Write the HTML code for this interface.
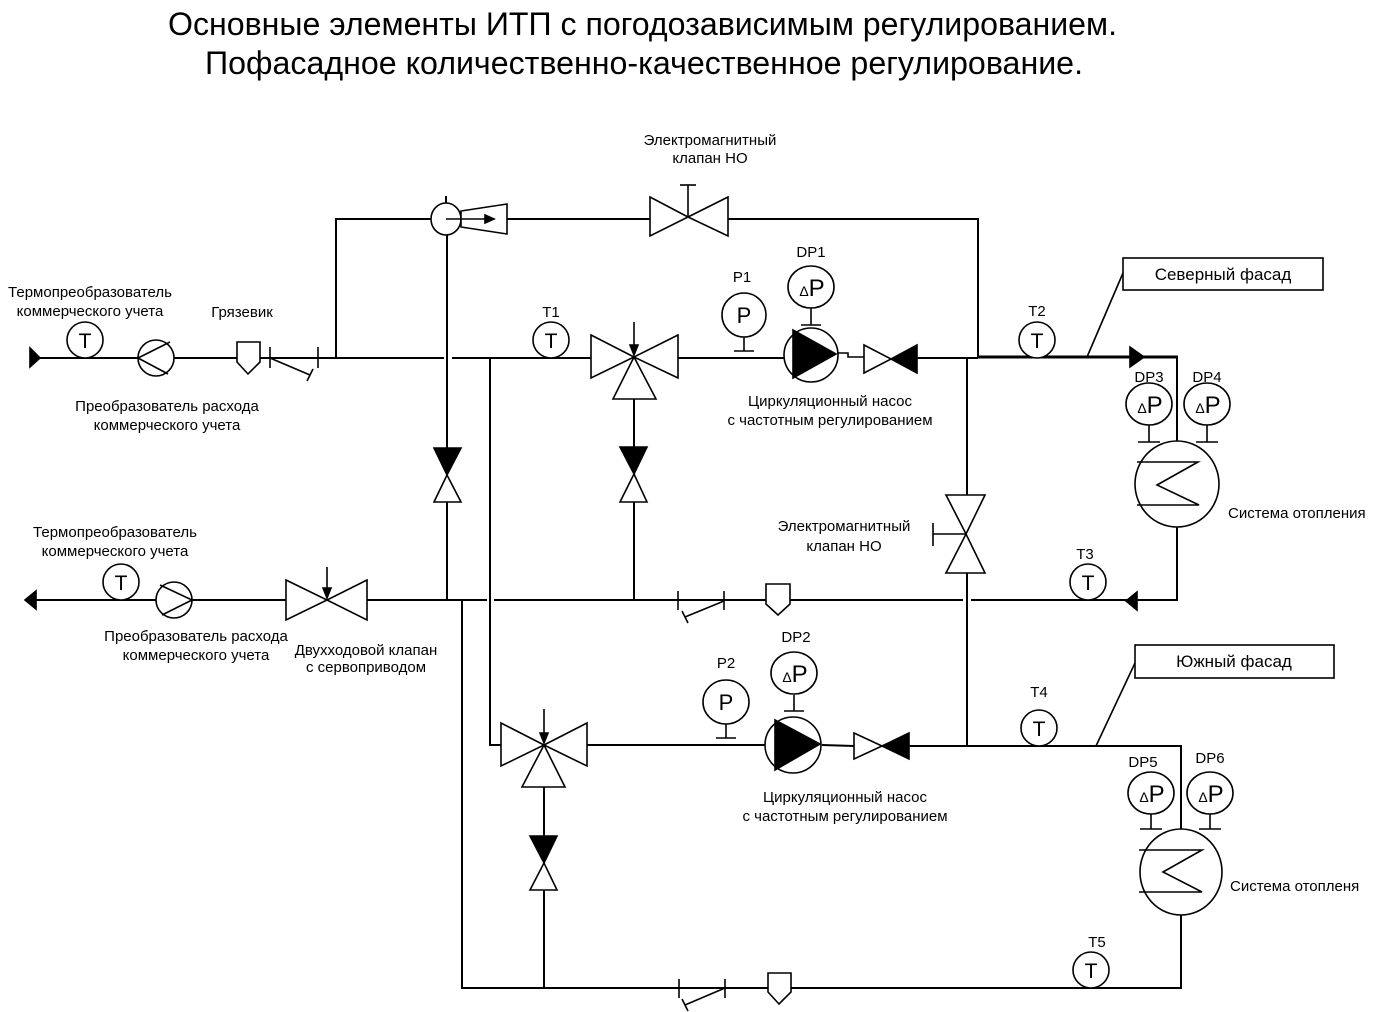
<!DOCTYPE html>
<html><head><meta charset="utf-8"><style>
html,body{margin:0;padding:0;background:#fff;}
svg{display:block;}
text{font-family:"Liberation Sans",sans-serif;fill:#000;}
</style></head><body>
<svg width="1375" height="1012" viewBox="0 0 1375 1012" xmlns="http://www.w3.org/2000/svg">
<defs>
<g id="tsens"><circle cx="0" cy="0" r="18" fill="#fff" stroke="#000" stroke-width="1.6"/><text x="0" y="8" font-size="21" text-anchor="middle">T</text></g>
<g id="dp"><ellipse cx="0" cy="0" rx="23" ry="21" fill="#fff" stroke="#000" stroke-width="1.6"/><text x="1" y="9" font-size="24" text-anchor="middle"><tspan font-size="14">Δ</tspan>P</text></g>
</defs>
<g font-size="32">
<text x="168" y="35" textLength="949" lengthAdjust="spacingAndGlyphs">Основные элементы ИТП с погодозависимым регулированием.</text>
<text x="205" y="74" textLength="878" lengthAdjust="spacingAndGlyphs">Пофасадное количественно-качественное регулирование.</text>
</g>
<g stroke="#000" stroke-width="2" fill="none">
<polyline points="336,357 336,219 431,219"/>
<line x1="507" y1="219" x2="650" y2="219"/>
<polyline points="728,219 978,219 978,357"/>
<line x1="35" y1="358" x2="138" y2="358"/>
<line x1="174" y1="358" x2="237" y2="358"/>
<line x1="260" y1="358" x2="444" y2="358"/>
<line x1="452" y1="358" x2="591" y2="358"/>
<line x1="678" y1="358" x2="784" y2="358"/>
<line x1="917" y1="358" x2="978" y2="358"/>
<line x1="978" y1="357" x2="1178" y2="357" stroke-width="3"/>
<line x1="447" y1="234" x2="447" y2="448"/>
<line x1="447" y1="502" x2="447" y2="600"/>
<line x1="446" y1="196" x2="446" y2="204"/>
<polyline points="490,358 490,745 501,745"/>
<line x1="634" y1="399" x2="634" y2="447"/>
<line x1="634" y1="502" x2="634" y2="600"/>
<line x1="35" y1="600" x2="156" y2="600"/>
<line x1="192" y1="600" x2="286" y2="600"/>
<line x1="367" y1="600" x2="487" y2="600"/>
<line x1="494" y1="600" x2="963" y2="600"/>
<line x1="971" y1="600" x2="1130" y2="600"/>
<polyline points="1130,600 1177,600 1177,527"/>
<line x1="1177" y1="357" x2="1177" y2="442"/>
<line x1="967" y1="358" x2="967" y2="495"/>
<line x1="967" y1="573" x2="967" y2="745"/>
<line x1="587" y1="745" x2="765" y2="745"/>
<line x1="822" y1="745" x2="854" y2="746"/>
<polyline points="909,746 1181,746 1181,829"/>
<line x1="544" y1="787" x2="544" y2="836"/>
<line x1="544" y1="890" x2="544" y2="988"/>
<polyline points="462,600 462,988 1181,988 1181,914"/>
</g>
<g stroke="#000" stroke-width="1.6" fill="#fff">
<polygon points="30,348 40,358 30,367" fill="#000"/>
<polygon points="25,600 36,591 36,609" fill="#000"/>
<circle cx="156" cy="358" r="18"/>
<polyline points="170,342 138,358 168,374" fill="none"/>
<circle cx="174" cy="600" r="18"/>
<polyline points="160,585 192,600 162,615" fill="none"/>
<polygon points="237,342 260,342 260,362 248,374 237,362"/>
<line x1="270" y1="347" x2="270" y2="368"/>
<line x1="318" y1="347" x2="318" y2="368"/>
<line x1="270" y1="358" x2="310" y2="375"/>
<line x1="307" y1="381" x2="313" y2="369"/>
<ellipse cx="446" cy="219" rx="15" ry="16"/>
<polygon points="461,211 507,204 507,234 461,227"/>
<line x1="446" y1="219" x2="490" y2="219"/>
<polygon points="485,215 494,219 485,223" fill="#000"/>
<polygon points="650,197 688,217 650,236"/>
<polygon points="728,197 688,217 728,236"/>
<line x1="688" y1="217" x2="688" y2="185"/>
<line x1="680" y1="185" x2="696" y2="185"/>
<polygon points="591,335 634,357 591,378"/>
<polygon points="678,335 634,357 678,378"/>
<polygon points="634,357 613,399 656,399"/>
<line x1="634" y1="322" x2="634" y2="350"/>
<polygon points="630,345 634,355 638,345" fill="#000"/>
<polygon points="434,448 461,448 447,475" fill="#000"/>
<polygon points="447,475 434,502 461,502"/>
<polygon points="620,447 647,447 634,474" fill="#000"/>
<polygon points="634,474 620,502 647,502"/>
<polygon points="530,836 557,836 544,863" fill="#000"/>
<polygon points="544,863 530,890 557,890"/>
<line x1="744" y1="337" x2="744" y2="351"/>
<line x1="734" y1="351" x2="754" y2="351"/>
<ellipse cx="744" cy="315" rx="22" ry="22"/>
<line x1="811" y1="308" x2="811" y2="325"/>
<line x1="801" y1="325" x2="821" y2="325"/>
<circle cx="811" cy="355" r="27"/>
<polygon points="793,330 793,378 836,354" fill="#000"/>
<polyline points="837,353 848,353 848,357 864,357" fill="none"/>
<polygon points="864,345 891,359 864,373"/>
<polygon points="917,345 891,359 917,373" fill="#000"/>
<polygon points="1130,347 1144,357 1130,367" fill="#000"/>
<polygon points="1137,592 1126,601 1137,610" fill="#000"/>
<ellipse cx="1177" cy="484" rx="42" ry="43"/>
<polyline points="1137,462 1198,462 1157,485 1199,505 1137,505" fill="none"/>
<line x1="1149" y1="425" x2="1149" y2="442"/>
<line x1="1138" y1="442" x2="1160" y2="442"/>
<line x1="1207" y1="425" x2="1207" y2="442"/>
<line x1="1196" y1="442" x2="1218" y2="442"/>
<polygon points="946,495 985,495 966,534"/>
<polygon points="946,573 985,573 966,534"/>
<line x1="966" y1="534" x2="933" y2="534"/>
<line x1="933" y1="523" x2="933" y2="546"/>
<polygon points="286,580 327,600 286,620"/>
<polygon points="367,580 327,600 367,620"/>
<line x1="327" y1="567" x2="327" y2="594"/>
<polygon points="323,588 327,598 331,588" fill="#000"/>
<line x1="678" y1="591" x2="678" y2="610"/>
<line x1="724" y1="591" x2="724" y2="610"/>
<line x1="724" y1="601" x2="685" y2="617"/>
<line x1="682" y1="611" x2="688" y2="623"/>
<polygon points="766,584 790,584 790,604 778,615 766,604"/>
<polygon points="501,723 544,745 501,766"/>
<polygon points="587,723 544,745 587,766"/>
<polygon points="544,745 522,787 565,787"/>
<line x1="544" y1="709" x2="544" y2="738"/>
<polygon points="540,733 544,743 548,733" fill="#000"/>
<line x1="726" y1="723" x2="726" y2="738"/>
<line x1="716" y1="738" x2="736" y2="738"/>
<ellipse cx="726" cy="702" rx="23" ry="22"/>
<line x1="794" y1="695" x2="794" y2="711"/>
<line x1="784" y1="711" x2="804" y2="711"/>
<circle cx="793" cy="745" r="28"/>
<polygon points="775,720 775,770 820,744" fill="#000"/>
<polygon points="854,733 882,746 854,759"/>
<polygon points="909,733 882,746 909,759" fill="#000"/>
<ellipse cx="1181" cy="872" rx="41" ry="43"/>
<polyline points="1139,850 1202,850 1163,872 1202,892 1139,892" fill="none"/>
<line x1="1151" y1="813" x2="1151" y2="829"/>
<line x1="1140" y1="829" x2="1162" y2="829"/>
<line x1="1210" y1="813" x2="1210" y2="829"/>
<line x1="1199" y1="829" x2="1221" y2="829"/>
<line x1="679" y1="979" x2="679" y2="998"/>
<line x1="725" y1="979" x2="725" y2="998"/>
<line x1="725" y1="988" x2="685" y2="1005"/>
<line x1="682" y1="999" x2="688" y2="1011"/>
<polygon points="768,973 791,973 791,992 779,1004 768,992"/>
<rect x="1123" y="258" width="200" height="32"/>
<line x1="1123" y1="273" x2="1087" y2="357"/>
<rect x="1135" y="645" width="199" height="33"/>
<line x1="1135" y1="663" x2="1096" y2="746"/>
</g>
<use href="#tsens" x="85" y="340"/>
<use href="#tsens" x="121" y="582"/>
<use href="#tsens" x="551" y="340"/>
<use href="#tsens" x="1037" y="340"/>
<use href="#tsens" x="1088" y="582"/>
<use href="#tsens" x="1039" y="728"/>
<use href="#tsens" x="1091" y="970"/>
<use href="#dp" x="811" y="287"/>
<use href="#dp" x="1149" y="404"/>
<use href="#dp" x="1207" y="404"/>
<use href="#dp" x="794" y="673"/>
<use href="#dp" x="1151" y="793"/>
<use href="#dp" x="1210" y="793"/>
<text x="744" y="323" font-size="22" text-anchor="middle">P</text>
<text x="726" y="710" font-size="22" text-anchor="middle">P</text>
<g font-size="15" text-anchor="middle">
<text x="90" y="297">Термопреобразователь</text>
<text x="90" y="316">коммерческого учета</text>
<text x="242" y="317">Грязевик</text>
<text x="167" y="411">Преобразователь расхода</text>
<text x="167" y="430">коммерческого учета</text>
<text x="115" y="537">Термопреобразователь</text>
<text x="115" y="556">коммерческого учета</text>
<text x="196" y="641">Преобразователь расхода</text>
<text x="196" y="660">коммерческого учета</text>
<text x="366" y="655">Двухходовой клапан</text>
<text x="366" y="672">с сервоприводом</text>
<text x="710" y="145">Электромагнитный</text>
<text x="710" y="163">клапан НО</text>
<text x="844" y="531">Электромагнитный</text>
<text x="844" y="551">клапан НО</text>
<text x="830" y="406">Циркуляционный насос</text>
<text x="830" y="425">с частотным регулированием</text>
<text x="845" y="802">Циркуляционный насос</text>
<text x="845" y="821">с частотным регулированием</text>
<text x="551" y="317">T1</text>
<text x="742" y="282">P1</text>
<text x="811" y="257">DP1</text>
<text x="1037" y="316">T2</text>
<text x="1149" y="382">DP3</text>
<text x="1207" y="382">DP4</text>
<text x="1085" y="559">T3</text>
<text x="726" y="668">P2</text>
<text x="796" y="642">DP2</text>
<text x="1039" y="697">T4</text>
<text x="1143" y="767">DP5</text>
<text x="1210" y="763">DP6</text>
<text x="1097" y="947">T5</text>
</g>
<g font-size="15">
<text x="1228" y="518">Система отопления</text>
<text x="1230" y="891">Система отопленя</text>
</g>
<g font-size="17" text-anchor="middle">
<text x="1223" y="280">Северный фасад</text>
<text x="1234" y="667">Южный фасад</text>
</g>
</svg>
</body></html>
